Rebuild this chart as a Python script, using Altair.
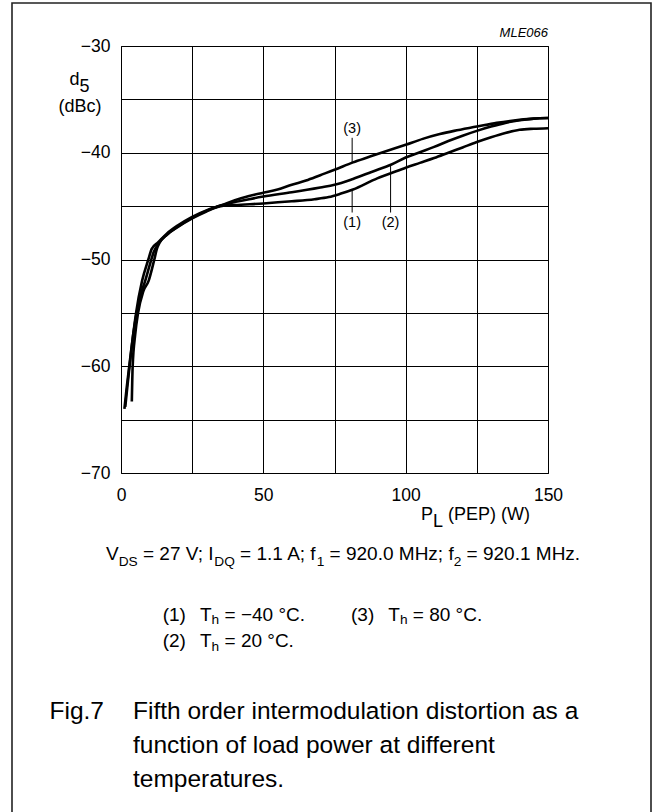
import altair as alt
import pandas as pd

# ---------------- data ----------------
X_GRID = [0, 25, 50, 75, 100, 125, 150]
Y_GRID = [-70, -65, -60, -55, -50, -45, -40, -35, -30]

# (1) Th = -40 degC
c1_x = [1.2, 2.0, 2.9, 4.3, 5.5, 7.0, 8.5, 10.0, 11.5, 13.2, 16, 20, 25, 30, 35, 40, 50, 60, 68, 73, 77,
        81.5, 90, 95, 100, 105, 110, 115, 120, 125, 130, 135, 140, 145, 150]
c1_y = [-64.0, -62.0, -60.0, -57.0, -55.0, -53.2, -52.0, -50.6, -49.3, -48.5, -47.7, -46.95, -46.15, -45.5,
        -45.0, -44.9, -44.75, -44.55, -44.35, -44.15, -43.85, -43.45, -42.4, -41.9, -41.4, -40.95, -40.5,
        -40.0, -39.5, -39.0, -38.55, -38.15, -37.85, -37.75, -37.7]

# (2) Th = 20 degC
c2_x = [3.8, 4.1, 5.0, 6.0, 7.8, 9.7, 11.7, 12.6, 13.6, 16, 20, 25, 30, 35, 45, 50, 60, 70, 75, 81.5, 88,
        95, 100, 105, 110, 115, 120, 125, 130, 135, 140, 145, 150]
c2_y = [-63.3, -60.0, -57.0, -55.0, -53.0, -52.0, -50.0, -49.0, -48.4, -47.7, -46.9, -46.1, -45.45, -44.95,
        -44.35, -44.1, -43.7, -43.25, -43.0, -42.45, -41.8, -41.1, -40.45, -39.95, -39.45, -38.9, -38.4,
        -37.95, -37.55, -37.2, -36.95, -36.8, -36.75]

# (3) Th = 80 degC
c3_x = [1.5, 2.2, 3.0, 4.3, 5.3, 7.4, 9.6, 10.8, 13.0, 16, 20, 25, 30, 35, 40, 45, 50, 55, 60, 65, 70, 75,
        81.5, 87, 92, 100, 106, 112, 117, 125, 132, 140, 145, 150]
c3_y = [-63.8, -62.0, -60.0, -57.0, -55.0, -52.0, -50.0, -49.0, -48.4, -47.6, -46.8, -46.0, -45.4, -44.95,
        -44.45, -44.05, -43.75, -43.45, -43.0, -42.6, -42.1, -41.6, -40.9, -40.4, -39.95, -39.25, -38.7,
        -38.25, -37.95, -37.55, -37.2, -36.92, -36.8, -36.75]

CURVE_NAMES = ["(1)", "(2)", "(3)"]
LEADER_X = [81.2, 94.7, 81.2]
LEADER_Y_TEXT_END = [-45.6, -45.6, -38.6]
LEADER_Y_CURVE_END = [-43.45, -41.2, -40.9]
LABEL_Y = [-46.6, -46.6, -37.8]

FIG_CODE = "MLE066"
Y_TITLE = ["d", "5"]
Y_UNIT = "(dBc)"
X_TITLE = ["P", "L", " (PEP) (W)"]
COND = [("V", 0), ("DS", 1), (" = 27 V; I", 0), ("DQ", 1), (" = 1.1 A; f", 0), ("1", 1),
        (" = 920.0 MHz; f", 0), ("2", 1), (" = 920.1 MHz.", 0)]
LEGEND = [("(1)", [("T", 0), ("h", 1), (" = \u221240 \u00b0C.", 0)]),
          ("(3)", [("T", 0), ("h", 1), (" = 80 \u00b0C.", 0)]),
          ("(2)", [("T", 0), ("h", 1), (" = 20 \u00b0C.", 0)])]
FIG_LABEL = "Fig.7"
CAPTION = ["Fifth order intermodulation distortion as a",
           "function of load power at different",
           "temperatures."]

# ---------------- layout ----------------
FONT = "Liberation Sans"
OX, OY = 121, 46          # plot origin in page pixels
PW, PH = 427, 427         # plot size
TOTAL_W, TOTAL_H = 653, 812

ADV = {' ': 278, '(': 333, ')': 333, '.': 278, ';': 278, '=': 584, '\u2212': 584, '\u00b0': 400, ',': 278,
       'A': 667, 'B': 667, 'C': 722, 'D': 722, 'E': 667, 'F': 611, 'H': 722, 'I': 278, 'L': 556, 'M': 833,
       'P': 667, 'Q': 778, 'S': 667, 'T': 611, 'V': 667, 'W': 944, 'a': 556, 'b': 556, 'c': 500, 'd': 556,
       'e': 556, 'f': 278, 'g': 556, 'h': 556, 'i': 222, 'l': 222, 'm': 833, 'n': 556, 'o': 556, 'p': 556,
       'r': 333, 's': 500, 't': 278, 'u': 556, 'v': 500, 'w': 722, 'z': 500, 'k': 500, 'y': 500, 'x': 500}


def text_width(s, size):
    return sum(ADV.get(c, 556) for c in s) * size / 1000.0


one = pd.DataFrame({"k": [0]})


def seg(text, x_abs, y_abs, size, align="left", style="normal"):
    return alt.Chart(one).mark_text(
        text=text, font=FONT, fontSize=size, align=align, baseline="alphabetic",
        fontStyle=style, color="black"
    ).encode(x=alt.value(x_abs - OX), y=alt.value(y_abs - OY))


def run(parts, x_abs, base, size, sub_size, sub_dy):
    out = []
    x = x_abs
    for t, is_sub in parts:
        s = sub_size if is_sub else size
        stripped = t.lstrip(" ")
        lead = t[:len(t) - len(stripped)]
        x += text_width(lead, s)
        out.append(seg(stripped, x, base + (sub_dy if is_sub else 0), s))
        x += text_width(stripped, s)
    return out


# ---------------- data frames ----------------
rows = []
for name, xs, ys in [("(1)", c1_x, c1_y), ("(2)", c2_x, c2_y), ("(3)", c3_x, c3_y)]:
    for i, (a, b) in enumerate(zip(xs, ys)):
        rows.append({"series": name, "P": a, "d": b, "i": i})
df = pd.DataFrame(rows)

lead = pd.DataFrame({"name": CURVE_NAMES, "x": LEADER_X, "y1": LEADER_Y_TEXT_END,
                     "y2": LEADER_Y_CURVE_END, "ly": LABEL_Y})

xscale = alt.Scale(domain=[0, 150], nice=False, zero=False)
yscale = alt.Scale(domain=[-70, -30], nice=False, zero=False)

xaxis = alt.Axis(values=X_GRID, labelExpr="datum.value % 50 == 0 ? datum.label : ''",
                 grid=True, gridColor="black", gridWidth=1, gridOpacity=1, ticks=False, tickSize=0,
                 domain=False, labelFont=FONT, labelFontSize=17.5, labelColor="black",
                 labelPadding=13, labelFlush=False, labelOverlap=False, title=None)
yaxis = alt.Axis(values=Y_GRID, labelExpr="datum.value % 10 == 0 ? datum.label : ''",
                 grid=True, gridColor="black", gridWidth=1, gridOpacity=1, ticks=False, tickSize=0,
                 domain=False, labelFont=FONT, labelFontSize=17.5, labelColor="black",
                 labelPadding=11, labelOverlap=False, title=None)

lines = alt.Chart(df).mark_line(color="black", strokeWidth=2.6, interpolate="monotone").encode(
    x=alt.X("P:Q", scale=xscale, axis=xaxis),
    y=alt.Y("d:Q", scale=yscale, axis=yaxis),
    detail="series:N",
    order="i:Q",
)

rules = alt.Chart(lead).mark_rule(color="black", strokeWidth=1).encode(
    x=alt.X("x:Q", scale=xscale), y=alt.Y("y1:Q", scale=yscale), y2="y2:Q")

labels = alt.Chart(lead).mark_text(font=FONT, fontSize=14.5, color="black", baseline="middle",
                                   align="center").encode(
    x=alt.X("x:Q", scale=xscale), y=alt.Y("ly:Q", scale=yscale), text="name:N")

frame = alt.Chart(one).mark_rect(filled=False, stroke="#222", strokeWidth=1.6).encode(
    x=alt.value(12 - OX), x2=alt.value(651 - OX), y=alt.value(3 - OY), y2=alt.value(830 - OY))

texts = []
texts.append(seg(FIG_CODE, 548, 37, 13, align="right", style="italic"))
# y title
texts += run([(Y_TITLE[0], 0), (Y_TITLE[1], 1)], 69.5, 85, 18, 18, 7)
texts.append(seg(Y_UNIT, 80, 112, 18, align="center"))
# x title
texts += run([(X_TITLE[0], 0), (X_TITLE[1], 1), (X_TITLE[2], 0)], 421, 520, 18, 18, 7)
# conditions
texts += run(COND, 106, 560, 19, 13.7, 6)
# legend
leg_pos = [(162.7, 200, 620.5), (351, 388.3, 620.5), (162.7, 200, 647)]
for (num, parts), (xn, xt, base) in zip(LEGEND, leg_pos):
    texts.append(seg(num, xn, base, 19))
    texts += run(parts, xt, base, 19, 13.7, 3.5)
# caption
texts.append(seg(FIG_LABEL, 49.5, 719, 24.5))
for line, base in zip(CAPTION, [719, 753, 787]):
    texts.append(seg(line, 133, base, 24.5))

chart = alt.layer(frame, lines, rules, labels, *texts).properties(
    width=PW, height=PH,
    padding={"left": OX, "top": OY, "right": TOTAL_W - OX - PW, "bottom": TOTAL_H - OY - PH},
    autosize="none", background="white",
).configure_view(stroke="black", strokeWidth=1)

chart.save("out.html", embed_options={"renderer": "svg", "actions": False})
